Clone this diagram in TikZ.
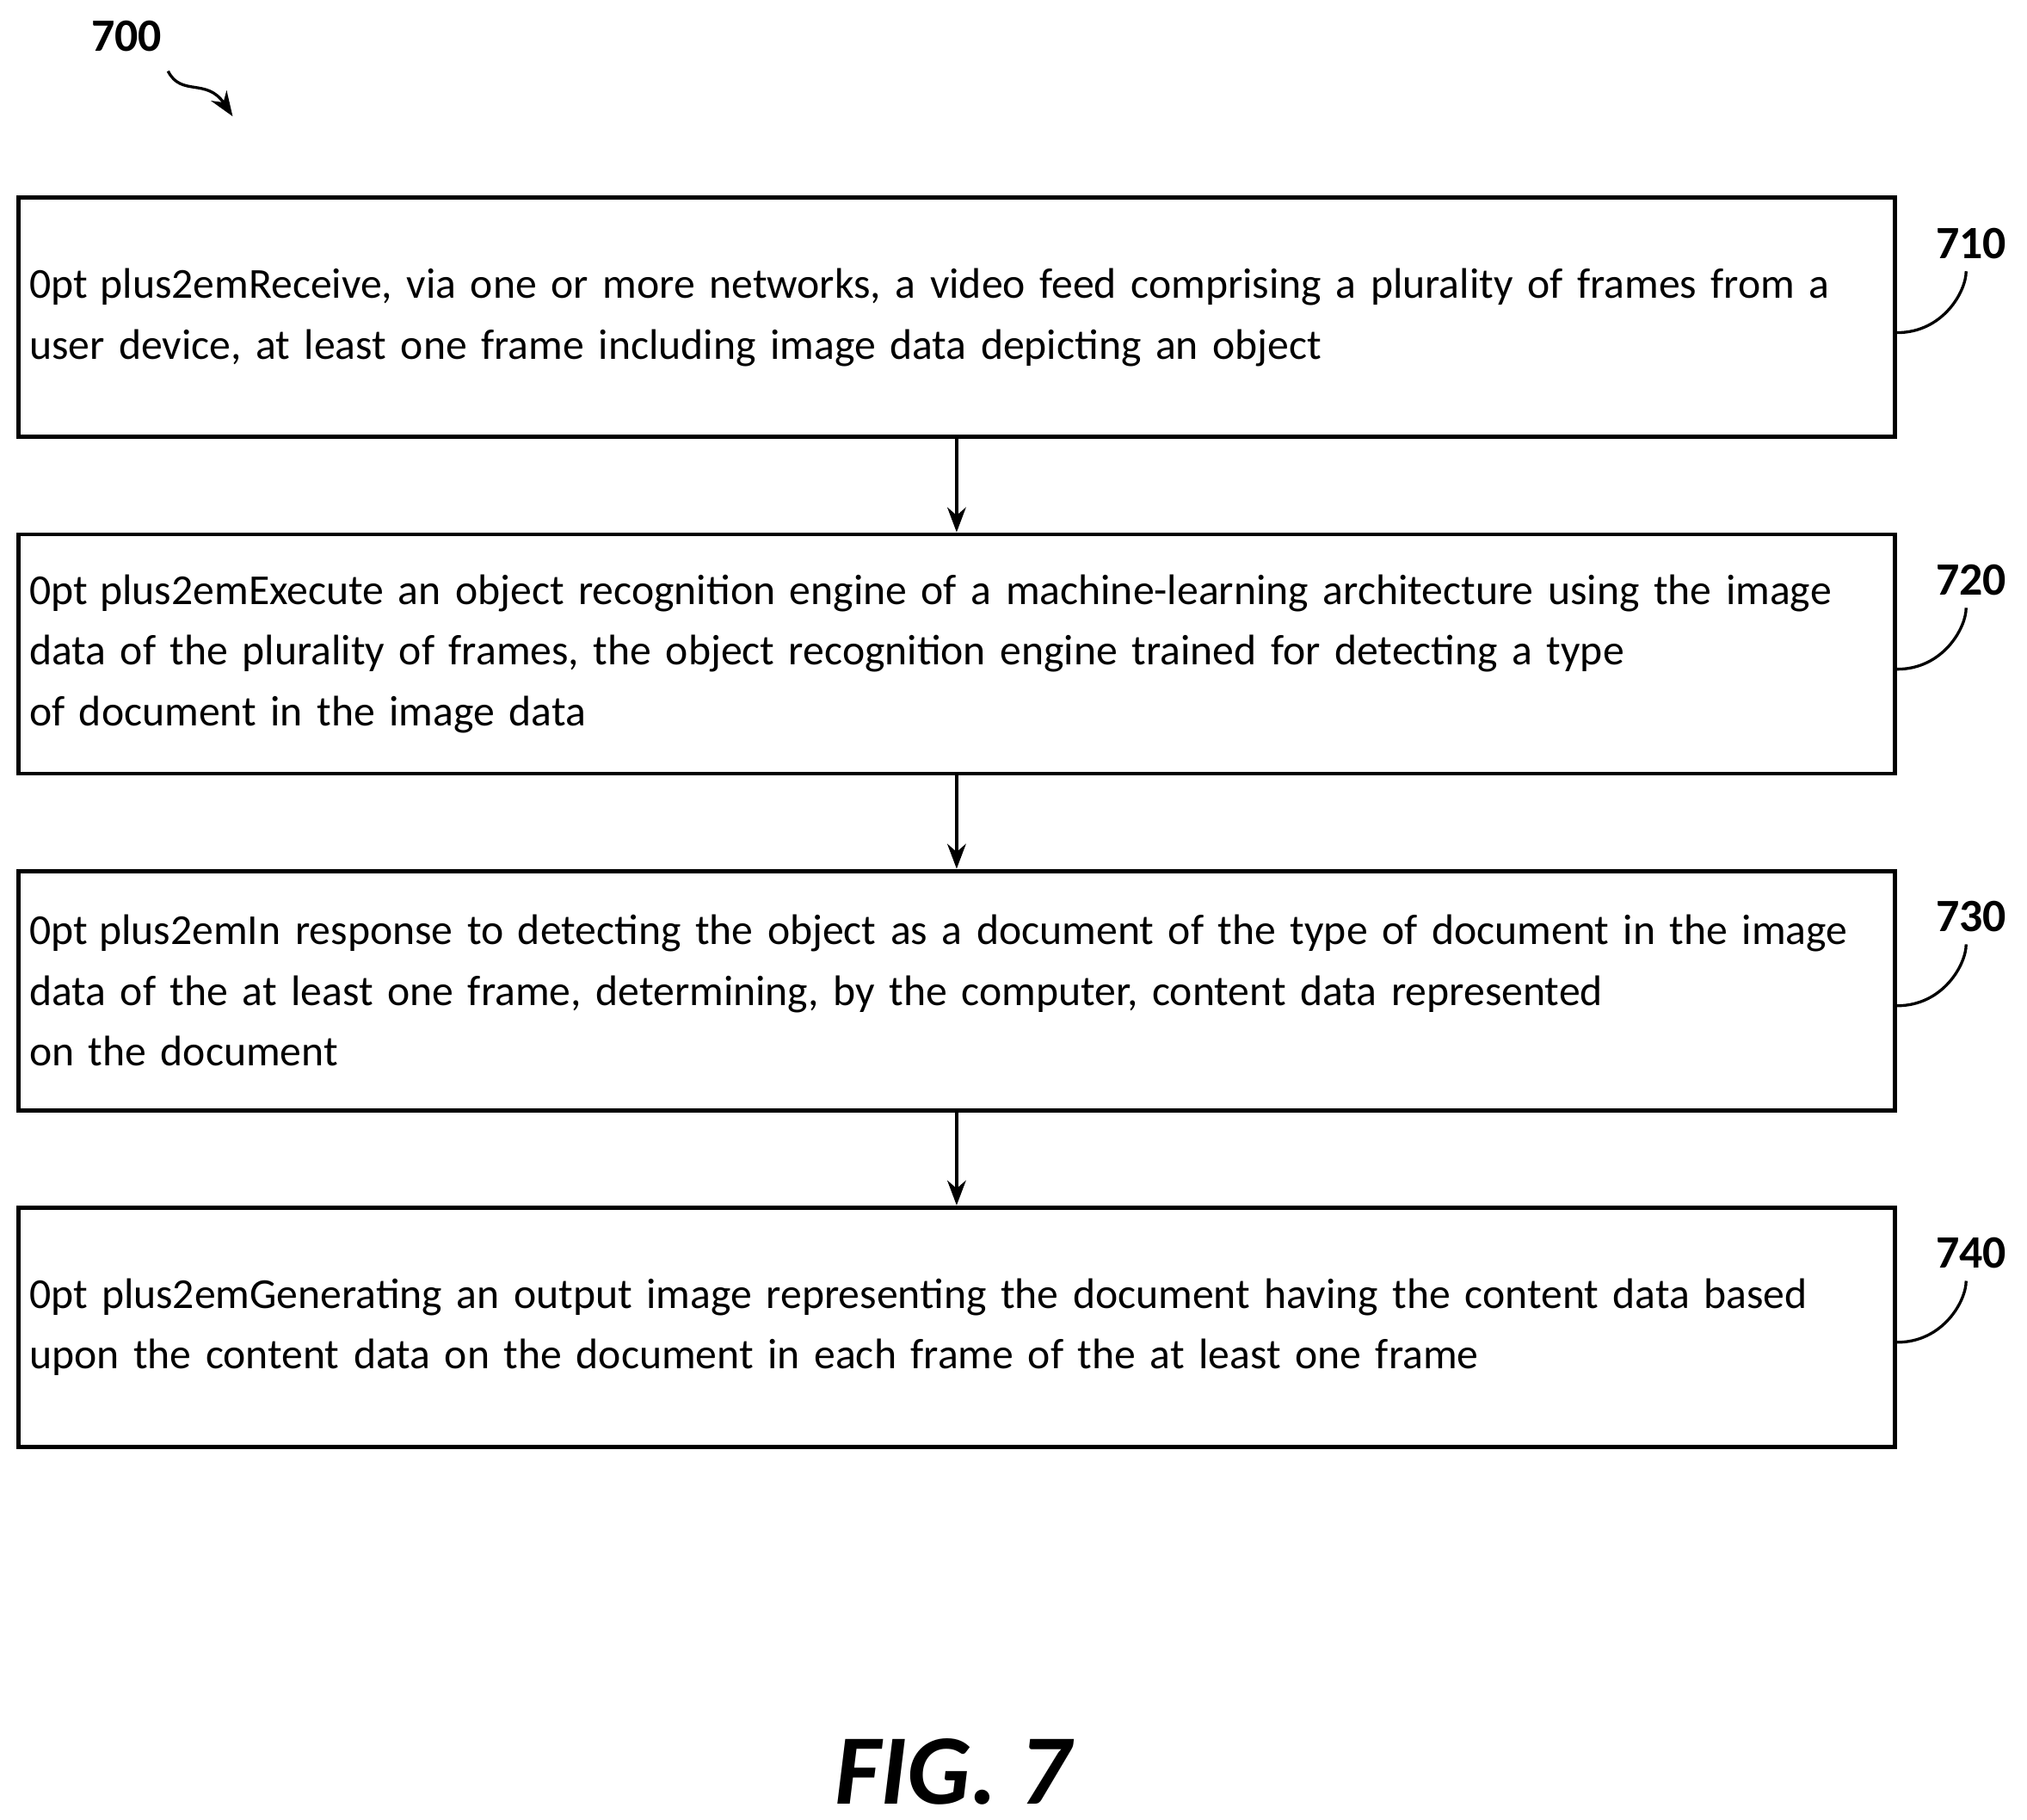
\documentclass[tikz,border=0pt]{standalone}
\usepackage{fontspec}
\setmainfont{Carlito}
\usetikzlibrary{positioning,arrows.meta}
\tikzset{
  stagebox/.style={draw, line width=1.2pt, minimum width=18.52cm, minimum height=2.36cm,
    text width=18.3cm, align=center, font=\fontsize{12}{17}\selectfont\hyphenpenalty=10000, inner sep=0pt},
  tag/.style={font=\bfseries\fontsize{13}{16}\selectfont},
  lead/.style={line width=0.8pt}
}
\begin{document}
\begin{tikzpicture}[x=0.012755cm, y=-0.012755cm, node distance=0.918cm]
    % page frame
    \useasboundingbox (0,0) rectangle (1568,1407);

    % figure number
    \node[tag] (fig) at (98,28) {700};
    \coordinate (figA) at (130,55);
    \coordinate (figB) at (180,90);
    \draw[lead, -{Stealth[length=7pt]}] (figA) .. controls (140,75) and (160,60) .. (figB);

    % steps
    \node[stagebox] (s710) at (740,245.5) {Receive, via one or more networks, a video feed comprising a plurality of frames from a\\ user device, at least one frame including image data depicting an object};
    \node[stagebox, below=of s710] (s720) {Execute an object recognition engine of a machine-learning architecture using the image\\ data of the plurality of frames, the object recognition engine trained for detecting a type\\ of document in the image data};
    \node[stagebox, below=of s720] (s730) {In response to detecting the object as a document of the type of document in the image\\ data of the at least one frame, determining, by the computer, content data represented\\ on the document};
    \node[stagebox, below=of s730] (s740) {Generating an output image representing the document having the content data based\\ upon the content data on the document in each frame of the at least one frame};

    % flow
    \draw[lead, -{Stealth[length=7pt]}] (s710) -- (s720);
    \draw[lead, -{Stealth[length=7pt]}] (s720) -- (s730);
    \draw[lead, -{Stealth[length=7pt]}] (s730) -- (s740);

    % reference numerals
    \foreach \s in {710,720,730,740}{
      \node[tag] (t\s) at ([xshift=0.73cm, yshift=-0.47cm]s\s.north east) {\s};
      \draw[lead] ([yshift=-0.15cm]s\s.east) .. controls +(0.45cm,0) and +(0,-0.2cm) .. ([xshift=-0.05cm]t\s.south);
    }

    % caption
    \node[font=\bfseries\itshape\fontsize{28}{34}\selectfont] (cap) at (737,1370) {FIG. 7};
\end{tikzpicture}
\end{document}
